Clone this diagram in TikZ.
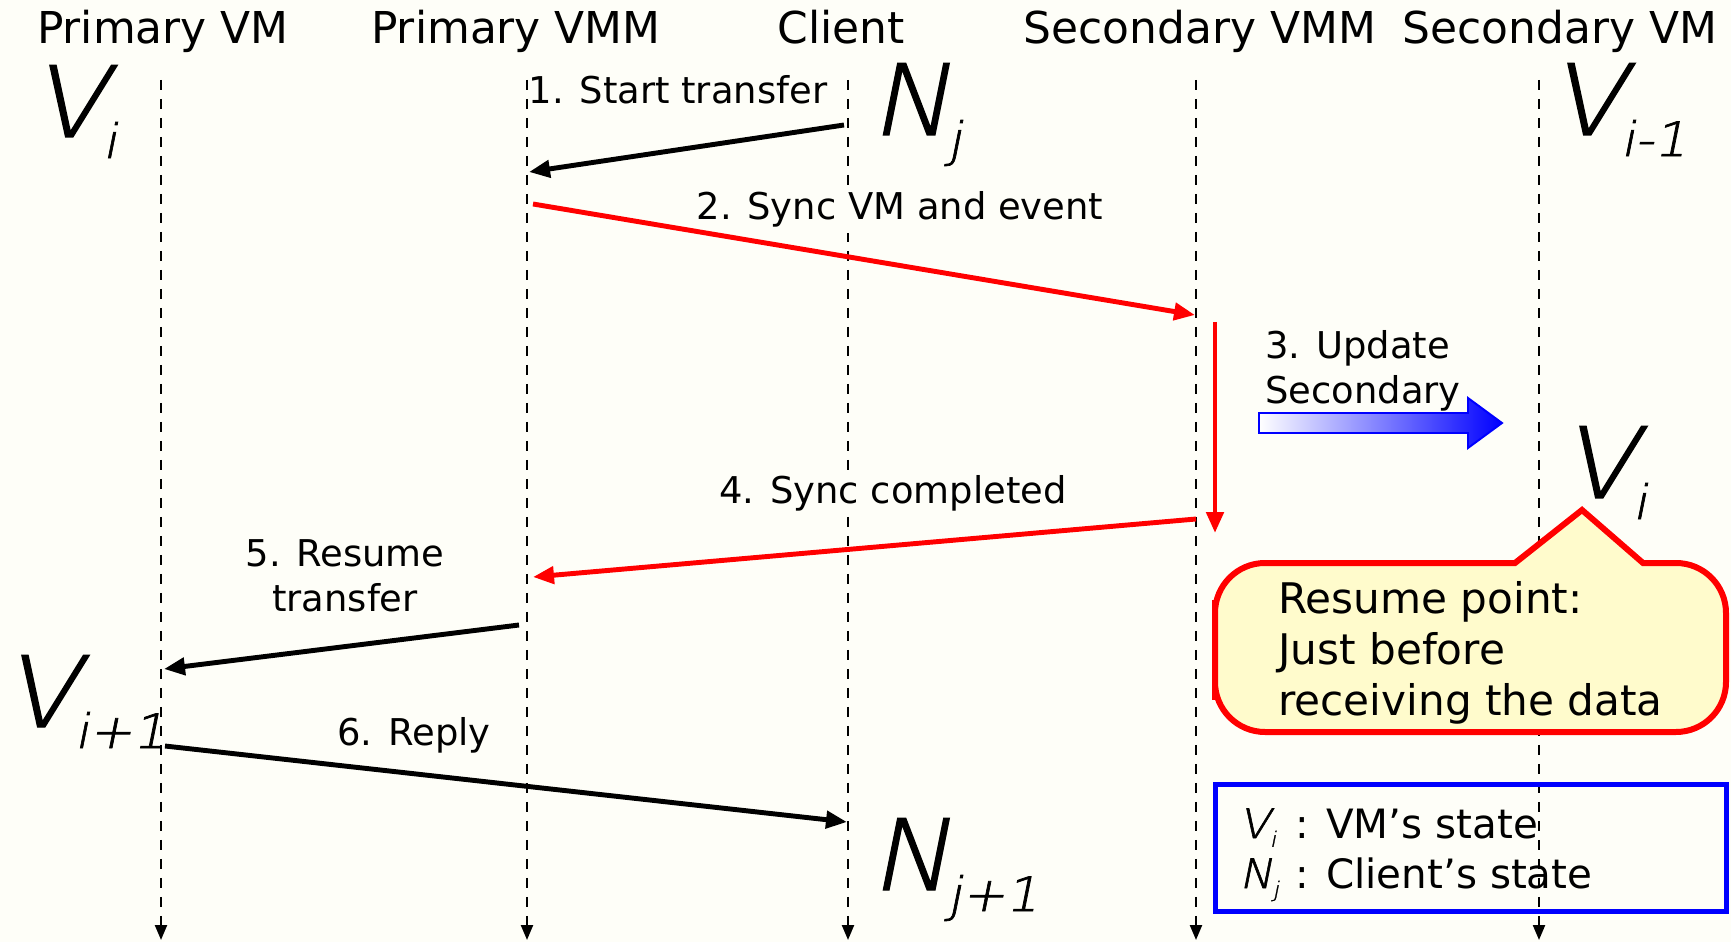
\documentclass[tikz,border=0pt]{standalone}
\usepackage{fontspec}
\setmainfont{DejaVu Sans}
\newfontfamily\thinfont{DejaVu Sans ExtraLight}[FakeSlant=0.2, FakeBold=1.5, FakeStretch=1.1]
\usetikzlibrary{arrows.meta}

\definecolor{paper}{RGB}{254,254,248}
\definecolor{notefill}{RGB}{255,251,204}

\newcommand{\bigst}[2]{{\thinfont #1}\kern-.04em\raisebox{-12pt}{\fontsize{27}{27}\selectfont\thinfont #2}}
\newcommand{\smallst}[2]{{\thinfont #1}\raisebox{-5pt}{\fontsize{12}{12}\selectfont\thinfont #2}}

\tikzset{
  lifeline/.style={dash pattern=on 0.21cm off 0.17cm, line width=1.3pt,
    -{Triangle[length=0.3cm,width=0.24cm]}},
  msg/.style={line width=2.8pt, -{Triangle[length=0.42cm,width=0.34cm]}},
  redmsg/.style={msg, red},
  head/.style={anchor=base, inner sep=0pt, font=\fontsize{25}{30}\selectfont},
  lbl/.style={anchor=base, inner sep=0pt, font=\fontsize{21}{25.5}\selectfont},
  masked/.style={lbl, fill=paper, inner sep=3pt},
  state/.style={anchor=base west, inner sep=0pt, font=\fontsize{56}{56}\selectfont},
  key/.style={anchor=base west, inner sep=0pt, font=\fontsize{23}{28}\selectfont},
}

\begin{document}
\begin{tikzpicture}[x=0.02cm, y=-0.02cm]
  \useasboundingbox (0,0) rectangle (1731,942);
  \fill[paper] (0,0) rectangle (1731,942);

  \foreach \ll/\xx in {pvm/161, pvmm/527, cl/848, svmm/1196, svm/1539}{
    \coordinate (\ll) at (\xx,80);
    \coordinate (\ll-end) at (\xx,940);
    \draw[lifeline] (\ll) -- (\ll-end);
  }

  \node[head] (t-pvm) at (163,44) {Primary VM};
  \node[head] (t-pvmm) at (516,44) {Primary VMM};
  \node[head] (t-cl) at (841,44) {Client};
  \node[head] (t-svmm) at (1200,44) {Secondary VMM};
  \node[head] (t-svm) at (1560,44) {Secondary VM};

  \node[state] (vi) at (32,137) {\bigst{V}{i}};
  \node[state] (nj) at (870,135) {\bigst{N}{j}};
  \node[state] (vim1) at (1550,135) {\bigst{V}{i-1}};
  \node[state] (vi2) at (1562,498) {\bigst{V}{i}};
  \node[state] (vip1) at (4,727) {\bigst{V}{i+1}};
  \node[state] (njp1) at (870,890) {\bigst{N}{j+1}};

  \node[lbl] (l1) at (678,104) {1. Start transfer};
  \node[masked] (l2) at (900,220) {2. Sync VM and event};
  \node[lbl, anchor=north west, align=left] (l3) at (1265,330) {3. Update\\Secondary};
  \node[masked] (l4) at (893,503) {4. Sync completed};
  \node[lbl, anchor=north, align=center] (l5) at (345,539) {5. Resume\\transfer};
  \node[lbl] (l6) at (414,745) {6. Reply};

  \coordinate (m1a) at (844,125);
  \coordinate (m1b) at (529,172);
  \coordinate (m2a) at (533,204);
  \coordinate (m2b) at (1195,315);
  \coordinate (m3a) at (1215,322);
  \coordinate (m3b) at (1215,533);
  \coordinate (m4a) at (1196,519);
  \coordinate (m4b) at (533,577);
  \coordinate (m5a) at (519,625);
  \coordinate (m5b) at (164,669);
  \coordinate (m6a) at (165,746);
  \coordinate (m6b) at (847,822);

  \draw[msg] (m1a) -- (m1b);
  \draw[redmsg] (m2a) -- (m2b);
  \draw[redmsg] (m3a) -- (m3b);
  \draw[redmsg] (m4a) -- (m4b);
  \draw[msg] (m5a) -- (m5b);
  \draw[msg] (m6a) -- (m6b);

  \path[draw=blue, line width=1.1pt, left color=white, right color=blue]
    (1259,413) -- (1468,413) -- (1468,398) -- (1502,423)
    -- (1468,448) -- (1468,433) -- (1259,433) -- cycle;

  \draw[red, line width=0.12cm, fill=notefill] (1215,650) [rounded corners=1cm]
    -- (1215,563) -- (1400,563) [sharp corners] -- (1515,563) -- (1582,510)
    -- (1643,563) -- (1670,563) [rounded corners=1cm] -- (1726,563)
    -- (1726,732) -- (1215,732) -- cycle;
  \node[anchor=north west, inner sep=0pt, align=left,
    font=\fontsize{24}{29}\selectfont] (note) at (1278,581)
    {Resume point:\\Just before\\receiving the data};

  \node[draw=blue, line width=0.1cm, minimum width=10.24cm, minimum height=2.56cm,
    inner sep=0pt] (legend) at (1471,848) {};
  \node[key] (key1) at (1239,838) {\makebox[32pt][l]{\smallst{V}{i}}: VM’s state};
  \node[key] (key2) at (1239,888) {\makebox[32pt][l]{\smallst{N}{j}}: Client’s state};
\end{tikzpicture}
\end{document}
